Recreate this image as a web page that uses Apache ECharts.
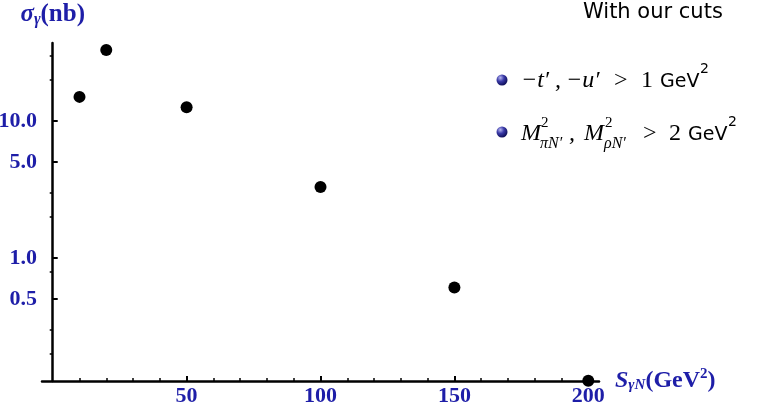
<!DOCTYPE html>
<html>
<head>
<meta charset="utf-8">
<script src="https://cdn.jsdelivr.net/npm/echarts@6/dist/echarts.min.js"></script>
<style>html,body{margin:0;padding:0;background:#fff}#c{width:768px;height:405px}</style>
</head>
<body>
<div id="c"></div>
<script>
// ---- data ----
const sNValues = [10, 20, 50, 100, 150, 200];
const sigmaValues = [15.0, 33, 12.6, 3.3, 0.61, 0.127];
const yTickLabels = [0.5, 1, 5, 10];
const yMinorTicks = [0.2, 0.3, 0.8, 2, 3, 20, 30];
const xTickLabels = [50, 100, 150, 200];
const xMinorTicks = [10, 20, 30, 40, 60, 70, 80, 90, 110, 120, 130, 140, 160, 170, 180, 190];

const BLUE = '#1e1ea8';
const SERIF = '"Liberation Serif", "DejaVu Serif", serif';
const SANS = '"DejaVu Sans", sans-serif';
const Y_MIN = 0.1265, Y_MAX = 37.1, X_MIN = -4, X_MAX = 204;

const chart = echarts.init(document.getElementById('c'), null, {renderer: 'canvas'});

const mathFont = 'italic 24px ' + SERIF;
function t(text, x, y, font, fill, align) {
  return {type: 'text', x: x, y: y, style: {text: text, font: font, fill: fill || '#000', align: align || 'left', verticalAlign: 'middle'}};
}
function bullet(x, y) {
  return {type: 'circle', shape: {cx: x, cy: y, r: 5.5},
    style: {fill: new echarts.graphic.RadialGradient(0.35, 0.3, 0.75, [
      {offset: 0, color: '#b8b8f0'}, {offset: 0.45, color: '#3a3aa8'}, {offset: 1, color: '#0a0a50'}])}};
}
const L1 = 81, L2 = 134;
const graphics = [
  t('With our cuts', 583, 13, '21px ' + SANS),
  bullet(502, 80),
  t('\u2212t\u2032', 521, L1, mathFont),
  t(',', 555, L1, mathFont),
  t('\u2212u\u2032', 566, L1, mathFont),
  t('>', 614, L1, '24px ' + SERIF),
  t('1', 641, L1, '24px ' + SERIF),
  t('GeV', 660, L1 + 1, '19px ' + SANS),
  t('2', 700, L1 - 12, '14px ' + SANS),
  bullet(502, 132),
  t('M', 521, L2, mathFont),
  t('2', 541, L2 - 11, '15px ' + SERIF),
  t('\u03c0N\u2032', 540, L2 + 10, 'italic 16px ' + SERIF),
  t(',', 569, L2, mathFont),
  t('M', 584, L2, mathFont),
  t('2', 605, L2 - 11, '15px ' + SERIF),
  t('\u03c1N\u2032', 604, L2 + 10, 'italic 16px ' + SERIF),
  t('>', 643, L2, '24px ' + SERIF),
  t('2', 669, L2, '24px ' + SERIF),
  t('GeV', 688, L2 + 1, '19px ' + SANS),
  t('2', 728, L2 - 12, '14px ' + SANS)
];

const axisLine = {show: true, onZero: true, lineStyle: {color: '#000', width: 2.5}};

chart.setOption({
  animation: false,
  backgroundColor: '#fff',
  grid: {left: 42, right: 169, top: 43, bottom: 24, containLabel: false, outerBoundsMode: 'none'},
  xAxis: [{
    type: 'value', min: X_MIN, max: X_MAX,
    axisLine: {show: true, onZero: false, lineStyle: {color: '#000', width: 2.5}},
    axisTick: {show: true, inside: true, length: 5, customValues: xTickLabels, lineStyle: {color: '#000', width: 2}},
    axisLabel: {show: true, customValues: xTickLabels, margin: 4, color: BLUE,
      fontFamily: SERIF, fontWeight: 'bold', fontSize: 22},
    splitLine: {show: false},
    name: '{s|S}{sub|\u03b3N}{p|(GeV}{sup|2}{p|)}',
    nameLocation: 'end', nameGap: 16,
    nameTextStyle: {align: 'left', verticalAlign: 'middle',
      rich: {
        s: {fontFamily: SERIF, fontStyle: 'italic', fontWeight: 'bold', fontSize: 24, color: BLUE, lineHeight: 30, verticalAlign: 'middle'},
        sub: {fontFamily: SERIF, fontStyle: 'italic', fontWeight: 'bold', fontSize: 15, color: BLUE, lineHeight: 30, verticalAlign: 'bottom', padding: [0, 0, 3, 0]},
        p: {fontFamily: SERIF, fontWeight: 'bold', fontSize: 24, color: BLUE, lineHeight: 30, verticalAlign: 'middle'},
        sup: {fontFamily: SERIF, fontWeight: 'bold', fontSize: 15, color: BLUE, lineHeight: 30, verticalAlign: 'top', padding: [1, 0, 0, 0]}
      }}
  }, {
    type: 'value', min: X_MIN, max: X_MAX, position: 'bottom',
    axisLine: {show: false},
    axisTick: {show: true, inside: true, length: 3, customValues: xMinorTicks, lineStyle: {color: '#000', width: 1.5}},
    axisLabel: {show: false},
    splitLine: {show: false}
  }],
  yAxis: [{
    type: 'log', logBase: 10, min: Y_MIN, max: Y_MAX,
    axisLine: axisLine,
    axisTick: {show: true, inside: true, length: 5, customValues: yTickLabels, lineStyle: {color: '#000', width: 2}},
    axisLabel: {show: true, customValues: yTickLabels, margin: 5, color: BLUE,
      fontFamily: SERIF, fontWeight: 'bold', fontSize: 22,
      formatter: function (v) { return Number(v).toFixed(1); }},
    splitLine: {show: false},
    minorTick: {show: false},
    name: '{s|\u03c3}{sub|\u03b3}{p|(nb)}',
    nameLocation: 'end', nameGap: 13,
    nameTextStyle: {align: 'center',
      rich: {
        s: {fontFamily: SERIF, fontStyle: 'italic', fontWeight: 'bold', fontSize: 25, color: BLUE, lineHeight: 30, verticalAlign: 'middle'},
        sub: {fontFamily: SERIF, fontStyle: 'italic', fontWeight: 'bold', fontSize: 16, color: BLUE, lineHeight: 30, verticalAlign: 'bottom', padding: [0, 0, 2, 0]},
        p: {fontFamily: SERIF, fontWeight: 'bold', fontSize: 25, color: BLUE, lineHeight: 30, verticalAlign: 'middle'}
      }}
  }, {
    type: 'log', logBase: 10, min: Y_MIN, max: Y_MAX,
    axisLine: {show: false, onZero: true},
    axisTick: {show: true, inside: true, length: 3, customValues: yMinorTicks, lineStyle: {color: '#000', width: 1.5}},
    axisLabel: {show: false},
    splitLine: {show: false}
  }],
  series: [{
    type: 'scatter',
    xAxisIndex: 0, yAxisIndex: 0,
    data: sNValues.map(function (x, i) { return [x, sigmaValues[i]]; }),
    symbol: 'circle', symbolSize: 12,
    itemStyle: {color: '#000', opacity: 1},
    clip: false
  }],
  graphic: graphics
});
</script>
</body>
</html>
